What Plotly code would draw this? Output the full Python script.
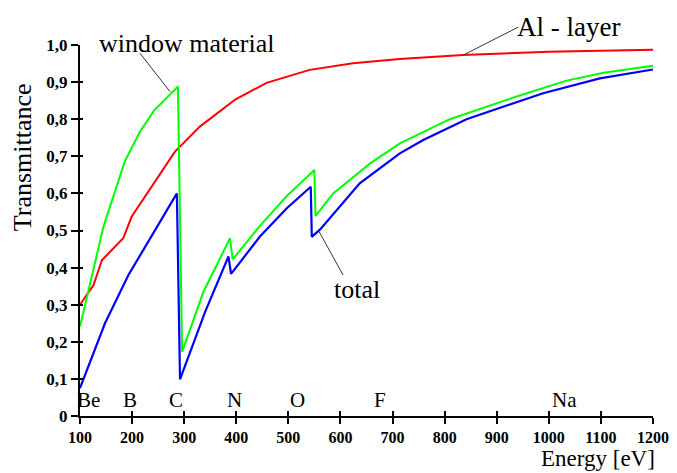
import plotly.graph_objects as go

# Al - layer transmittance
al_energy = [100, 126, 142, 183, 199, 244, 282, 330, 398, 458, 541, 624, 714, 835, 1000, 1200]
al_trans = [0.30, 0.353, 0.42, 0.479, 0.537, 0.632, 0.712, 0.78, 0.853, 0.898, 0.933, 0.951, 0.962, 0.973, 0.982, 0.987]

# window material transmittance
win_energy = [100, 145, 186, 215, 242, 288, 296, 337, 388, 393, 445, 497, 550, 552, 586, 657, 714, 810, 938, 1034, 1105, 1200]
win_trans = [0.241, 0.51, 0.686, 0.766, 0.823, 0.888, 0.173, 0.335, 0.479, 0.422, 0.512, 0.593, 0.663, 0.539, 0.60, 0.681, 0.735, 0.80, 0.861, 0.904, 0.925, 0.944]

# total transmittance
tot_energy = [100, 148, 193, 244, 286, 292, 340, 385, 390, 445, 497, 543, 545, 561, 637, 714, 759, 842, 989, 1098, 1200]
tot_trans = [0.075, 0.25, 0.38, 0.50, 0.60, 0.099, 0.28, 0.43, 0.383, 0.483, 0.56, 0.618, 0.483, 0.503, 0.627, 0.708, 0.744, 0.80, 0.87, 0.91, 0.934]

# element edge labels
elements = ["Be", "B", "C", "N", "O", "F", "Na"]
element_energy = [117, 196, 284, 396, 518, 676, 1031]
element_y = 0.043

x_ticks = [100, 200, 300, 400, 500, 600, 700, 800, 900, 1000, 1100, 1200]
y_ticks = [0, 0.1, 0.2, 0.3, 0.4, 0.5, 0.6, 0.7, 0.8, 0.9, 1.0]
y_ticktext = ["0", "0,1", "0,2", "0,3", "0,4", "0,5", "0,6", "0,7", "0,8", "0,9", "1,0"]

SERIF = "Liberation Serif"
X0, X1 = 100, 1200


def px(e):
    return (e - X0) / (X1 - X0)


fig = go.Figure()
fig.add_trace(go.Scatter(x=al_energy, y=al_trans, mode="lines",
                         line=dict(color="#ff0000", width=2), showlegend=False))
fig.add_trace(go.Scatter(x=win_energy, y=win_trans, mode="lines",
                         line=dict(color="#00ff00", width=2), showlegend=False))
fig.add_trace(go.Scatter(x=tot_energy, y=tot_trans, mode="lines",
                         line=dict(color="#0000ff", width=2.2), showlegend=False))
# dummy trace on overlay axes for inside ticks
fig.add_trace(go.Scatter(x=[X0], y=[0], xaxis="x2", yaxis="y2", mode="markers",
                         marker=dict(opacity=0), showlegend=False, hoverinfo="skip"))

fig.update_layout(
    width=677, height=473,
    margin=dict(l=80, r=24, t=45, b=57, autoexpand=False),
    paper_bgcolor="white", plot_bgcolor="white",
    font=dict(family=SERIF, color="black"),
    xaxis=dict(range=[X0, X1], tickvals=x_ticks, ticktext=[str(v) for v in x_ticks],
               showline=True, linecolor="black", linewidth=2, showgrid=False, zeroline=False,
               ticks="outside", ticklen=6, tickwidth=2, tickcolor="black", automargin=False,
               tickfont=dict(family=SERIF, size=16, color="black", weight="bold")),
    yaxis=dict(range=[0, 1.0], tickvals=y_ticks, ticktext=y_ticktext,
               showline=True, linecolor="black", linewidth=2, showgrid=False, zeroline=False,
               ticks="outside", ticklen=7, tickwidth=2, tickcolor="black", automargin=False,
               tickfont=dict(family=SERIF, size=17, color="black", weight="bold")),
    xaxis2=dict(overlaying="x", matches="x", tickvals=x_ticks, showticklabels=False,
                ticks="inside", ticklen=5, tickwidth=2, tickcolor="black",
                showgrid=False, zeroline=False, showline=False),
    yaxis2=dict(overlaying="y", matches="y", tickvals=y_ticks, showticklabels=False,
                ticks="inside", ticklen=3, tickwidth=2, tickcolor="black",
                showgrid=False, zeroline=False, showline=False),
)

annotations = [
    dict(text="window material", x=px(305), y=1.003, font=dict(size=26)),
    dict(text="Al - layer", x=0.853, y=1.049, font=dict(size=27)),
    dict(text="total", x=px(632), y=0.34, font=dict(size=26)),
    dict(text="Transmittance", x=-0.101, y=0.698, textangle=-90, font=dict(size=26)),
    dict(text="Energy [eV]", x=0.904, y=-0.114, font=dict(size=23)),
]
for name, e in zip(elements, element_energy):
    annotations.append(dict(text=name, x=px(e), y=element_y, font=dict(size=21)))
for a in annotations:
    a.update(xref="paper", yref="paper", showarrow=False, xanchor="center", yanchor="middle")
    a["font"].update(family=SERIF, color="black")
fig.update_layout(annotations=annotations)

# leader lines
leaders = [
    (215, 0.978, 273, 0.874),
    (941, 1.048, 836, 0.973),
    (605, 0.38, 559, 0.497),
]
for e0, t0, e1, t1 in leaders:
    fig.add_shape(type="line", xref="paper", yref="paper",
                  x0=px(e0), y0=t0, x1=px(e1), y1=t1,
                  line=dict(color="#333333", width=1))

fig.write_html("out.html")
